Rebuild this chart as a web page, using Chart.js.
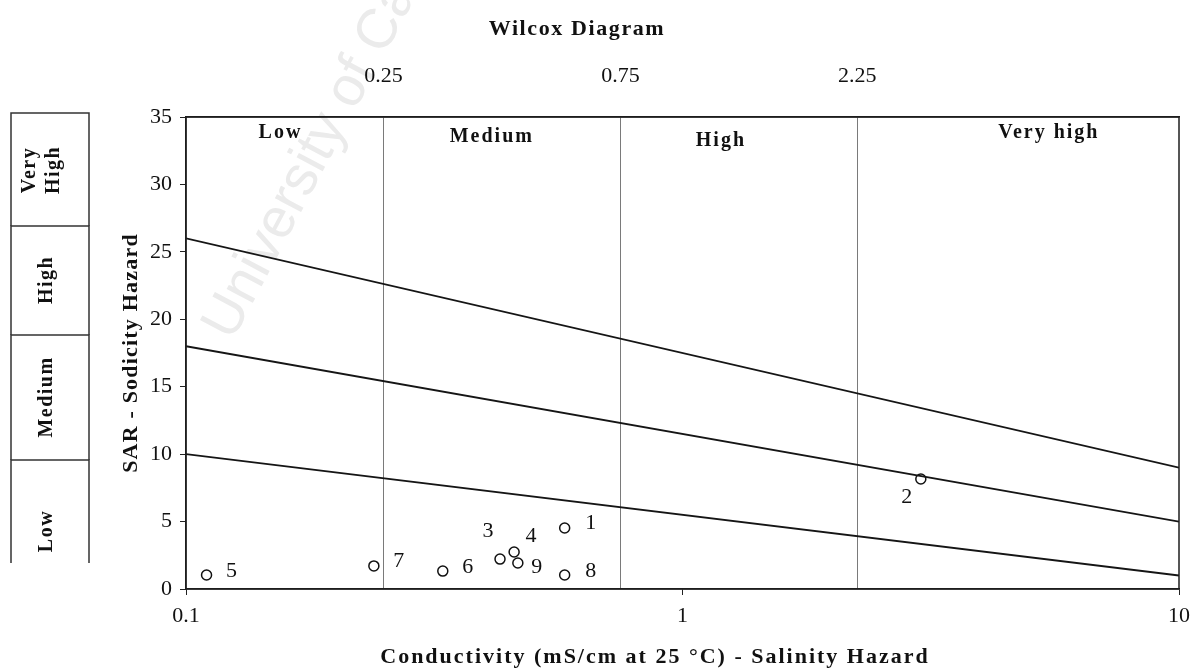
<!DOCTYPE html>
<html><head><meta charset="utf-8">
<script src="https://cdn.jsdelivr.net/npm/chart.js@4.4.1/dist/chart.umd.min.js"></script>
<style>html,body{margin:0;padding:0;background:#fff}#wrap{width:1194px;height:669px}</style>
</head><body><div id="wrap"><canvas id="c" width="1194" height="669"></canvas></div>
<script>
// ---- data ----
const chartTitle = 'Wilcox Diagram';
const xTitle = 'Conductivity (mS/cm at 25 \u00B0C) - Salinity Hazard';
const yTitle = 'SAR - Sodicity Hazard';
const watermarkText = 'University of Cape Town';
const xTickValues = [0.1, 1, 10];
const xTickLabels = ['0.1', '1', '10'];
const salinityBounds = [0.25, 0.75, 2.25];
const salinityBoundLabels = ['0.25', '0.75', '2.25'];
const salinityClasses = ['Low', 'Medium', 'High', 'Very high'];
const sodiumClasses = [['Very', 'High'], ['High'], ['Medium'], ['Low']];
const sampleIds = ['1', '2', '3', '4', '5', '6', '7', '8', '9'];
const sampleEC = [0.579, 3.02, 0.429, 0.458, 0.110, 0.329, 0.239, 0.579, 0.466];
const sampleSAR = [4.52, 8.16, 2.22, 2.74, 1.04, 1.33, 1.71, 1.04, 1.93];
const lineEC = [0.1, 10];
const lineHighVeryHigh = [26, 9];
const lineMediumHigh = [18, 5];
const lineLowMedium = [10, 1];

// ---- styles / placement (not data) ----
const SERIF = '"Liberation Serif", "Times New Roman", serif';
const classLabelPos = [ {x: 0.155, y: 133}, {x: 0.413, y: 137}, {x: 1.195, y: 141}, {x: 5.47, y: 133} ];
const sodiumBoxEdges = [113, 226, 335, 460, 563];
const sodiumBoxLabelY = [170, 280, 397, 531];
const pointLabelOffsets = [[26,-5],[-14,18],[-12,-28],[17,-16],[25,-4],[25,-4],[25,-5],[26,-4],[19,4]];

function drawText(ctx, str, x, y, font, spacing, align, rot) {
  ctx.save();
  ctx.translate(x, y);
  if (rot) ctx.rotate(rot);
  ctx.font = font;
  try { ctx.letterSpacing = spacing || '0px'; } catch (e) {}
  ctx.textAlign = align || 'center';
  ctx.textBaseline = 'middle';
  ctx.fillStyle = '#111';
  ctx.fillText(str, 0, 0);
  ctx.restore();
}

const decor = {
  id: 'decor',
  beforeDraw(chart) {
    const ctx = chart.ctx;
    ctx.save();
    ctx.fillStyle = '#fff';
    ctx.fillRect(0, 0, chart.width, chart.height);
    ctx.translate(232, 342);
    ctx.rotate(-62 * Math.PI / 180);
    ctx.font = '56px "Liberation Sans", Arial, sans-serif';
    ctx.fillStyle = '#ebebeb';
    ctx.textBaseline = 'alphabetic';
    ctx.fillText(watermarkText, 0, 0);
    ctx.restore();
  },
  afterDraw(chart) {
    const ctx = chart.ctx, a = chart.chartArea, xs = chart.scales.x;
    ctx.save();
    ctx.strokeStyle = '#1e1e1e';
    ctx.lineWidth = 1.5;
    ctx.strokeRect(a.left, a.top, a.right - a.left, a.bottom - a.top);
    ctx.restore();

    drawText(ctx, chartTitle, 577, 29, 'bold 22px ' + SERIF, '1.6px', 'center');
    drawText(ctx, xTitle, 655, 657, 'bold 22px ' + SERIF, '2px', 'center');
    drawText(ctx, yTitle, 131, 353, 'bold 22px ' + SERIF, '1.2px', 'center', -Math.PI / 2);

    salinityClasses.forEach((c, i) => {
      drawText(ctx, c, xs.getPixelForValue(classLabelPos[i].x), classLabelPos[i].y, 'bold 20px ' + SERIF, '2px', 'center');
    });

    // sodium hazard boxes on the left
    ctx.save();
    ctx.strokeStyle = '#333';
    ctx.lineWidth = 1.5;
    const bl = 11, br = 89;
    for (let i = 0; i < 4; i++) {
      const t = sodiumBoxEdges[i], b = sodiumBoxEdges[i + 1];
      ctx.beginPath();
      ctx.moveTo(bl, b); ctx.lineTo(bl, t); ctx.lineTo(br, t); ctx.lineTo(br, b);
      ctx.stroke();
    }
    ctx.restore();
    sodiumClasses.forEach((lines, i) => {
      if (lines.length === 2) {
        drawText(ctx, lines[0], 30, sodiumBoxLabelY[i], 'bold 20px ' + SERIF, '1.5px', 'center', -Math.PI / 2);
        drawText(ctx, lines[1], 54, sodiumBoxLabelY[i], 'bold 20px ' + SERIF, '1.5px', 'center', -Math.PI / 2);
      } else {
        drawText(ctx, lines[0], 47, sodiumBoxLabelY[i], 'bold 20px ' + SERIF, '1.5px', 'center', -Math.PI / 2);
      }
    });

    // sample number labels
    const meta = chart.getDatasetMeta(3);
    meta.data.forEach((pt, i) => {
      const o = pointLabelOffsets[i];
      drawText(ctx, sampleIds[i], pt.x + o[0], pt.y + o[1], '22px ' + SERIF, '0px', 'center');
    });
  }
};

const lineStyle = { showLine: true, borderColor: '#151515', borderWidth: 1.8, pointRadius: 0, fill: false };
new Chart(document.getElementById('c'), {
  type: 'scatter',
  data: {
    datasets: [
      Object.assign({ label: 'High/Very high', data: lineEC.map((v, i) => ({ x: v, y: lineHighVeryHigh[i] })) }, lineStyle),
      Object.assign({ label: 'Medium/High', data: lineEC.map((v, i) => ({ x: v, y: lineMediumHigh[i] })) }, lineStyle),
      Object.assign({ label: 'Low/Medium', data: lineEC.map((v, i) => ({ x: v, y: lineLowMedium[i] })) }, lineStyle),
      { label: 'Samples', data: sampleEC.map((v, i) => ({ x: v, y: sampleSAR[i] })),
        pointRadius: 5, pointBorderWidth: 1.5, borderColor: '#111', backgroundColor: '#fff', pointHoverRadius: 5 }
    ]
  },
  options: {
    responsive: false, animation: false, devicePixelRatio: 1,
    layout: { padding: { left: 112, right: 15, top: 0, bottom: 0 } },
    plugins: { legend: { display: false }, tooltip: { enabled: false }, title: { display: false } },
    scales: {
      x: {
        type: 'logarithmic', position: 'bottom', min: 0.1, max: 10,
        afterBuildTicks: ax => { ax.ticks = xTickValues.map(v => ({ value: v })); },
        ticks: { callback: (v, i) => xTickLabels[i], font: { family: SERIF, size: 22 }, color: '#111', padding: 8, maxRotation: 0, autoSkip: false },
        grid: { display: true, drawOnChartArea: false, drawTicks: true, tickLength: 6, color: '#222' },
        border: { display: true, color: '#1e1e1e', width: 1.5 },
        afterFit: s => { s.height = 80; s.paddingLeft = 0; s.paddingRight = 0; }
      },
      xTop: {
        type: 'logarithmic', position: 'top', min: 0.1, max: 10,
        afterBuildTicks: ax => { ax.ticks = salinityBounds.map(v => ({ value: v })); },
        ticks: { callback: (v, i) => salinityBoundLabels[i], font: { family: SERIF, size: 22 }, color: '#111', padding: 28, maxRotation: 0, autoSkip: false },
        grid: { display: true, drawOnChartArea: true, drawTicks: false, color: '#7a7a7a', lineWidth: 1 },
        border: { display: true, color: '#1e1e1e', width: 1.5 },
        afterFit: s => { s.height = 117; s.paddingLeft = 0; s.paddingRight = 0; }
      },
      y: {
        type: 'linear', position: 'left', min: 0, max: 35,
        ticks: { stepSize: 5, font: { family: SERIF, size: 22 }, color: '#111', padding: 8 },
        grid: { display: true, drawOnChartArea: false, drawTicks: true, tickLength: 6, color: '#222' },
        border: { display: true, color: '#1e1e1e', width: 1.5 },
        afterFit: s => { s.width = 74; s.paddingTop = 0; s.paddingBottom = 0; }
      }
    }
  },
  plugins: [decor]
});
</script>
</body></html>
